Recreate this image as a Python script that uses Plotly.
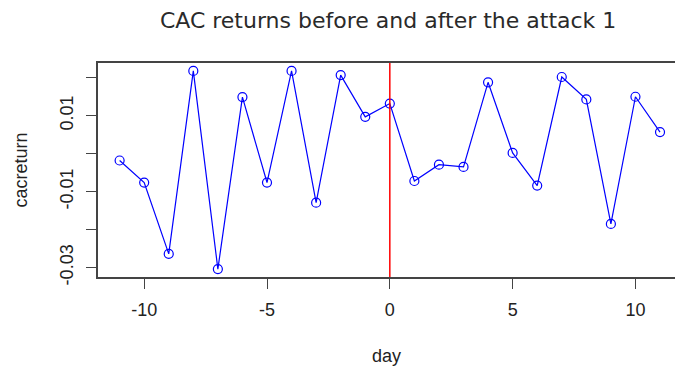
import plotly.graph_objects as go

# CAC 40 daily returns around the event day (day 0)
days = list(range(-11, 12))
cacreturn = [
    -0.0018, -0.0076, -0.0264, 0.0218, -0.0304, 0.0149, -0.0076, 0.0218,
    -0.0129, 0.0207, 0.0097, 0.0132, -0.0072, -0.0029, -0.0035, 0.0188,
    0.0002, -0.0084, 0.0202, 0.0143, -0.0185, 0.0150, 0.0057,
]
event_day = 0

y_ticks = [-0.03, -0.02, -0.01, 0.0, 0.01, 0.02]
y_tick_text = ["-0.03", "", "-0.01", "", "0.01", ""]
x_ticks = [-10, -5, 0, 5, 10]
x_tick_text = ["-10", "-5", "0", "5", "10"]

# R-style 4% padding around the data range
ymin, ymax = min(cacreturn), max(cacreturn)
ypad = 0.04 * (ymax - ymin)
xpad = 0.04 * (max(days) - min(days))

axis_font = dict(family="Liberation Sans, Arial, sans-serif", size=18, color="#222222")

fig = go.Figure()
fig.add_trace(go.Scatter(
    x=days, y=cacreturn, mode="lines+markers",
    line=dict(color="#0000FF", width=1.2),
    marker=dict(symbol="circle-open", size=9, color="#0000FF", line=dict(width=1.2)),
    showlegend=False,
))
fig.add_shape(type="line", xref="x", yref="paper", x0=event_day, x1=event_day, y0=0, y1=1,
              line=dict(color="#FF0000", width=1.5))

fig.update_layout(
    width=675, height=371,
    margin=dict(l=98, r=0, t=63, b=94),
    paper_bgcolor="white", plot_bgcolor="white",
    title=dict(text="CAC returns before and after the attack 1",
               x=0.575, xanchor="center", y=0.945, yanchor="middle",
               font=dict(family="DejaVu Sans, sans-serif", size=22, color="#2a2a2a")),
    xaxis=dict(
        range=[min(days) - xpad, 11.61],
        tickvals=x_ticks, ticktext=x_tick_text,
        ticks="outside", ticklen=10, tickwidth=1.3, tickcolor="#444444",
        showgrid=False, zeroline=False,
        showline=True, linecolor="#444444", linewidth=1.5, mirror=True,
        tickfont=axis_font, ticklabelstandoff=6,
        title=dict(text="day", font=axis_font, standoff=30),
    ),
    yaxis=dict(
        range=[ymin - ypad, ymax + ypad],
        tickvals=y_ticks, ticktext=y_tick_text, tickangle=-90,
        ticks="outside", ticklen=10, tickwidth=1.3, tickcolor="#444444",
        showgrid=False, zeroline=False,
        showline=True, linecolor="#444444", linewidth=1.5,
        tickfont=axis_font, ticklabelstandoff=6,
        title=dict(text="cacreturn", font=axis_font, standoff=25),
    ),
)

fig.write_html("out.html")
